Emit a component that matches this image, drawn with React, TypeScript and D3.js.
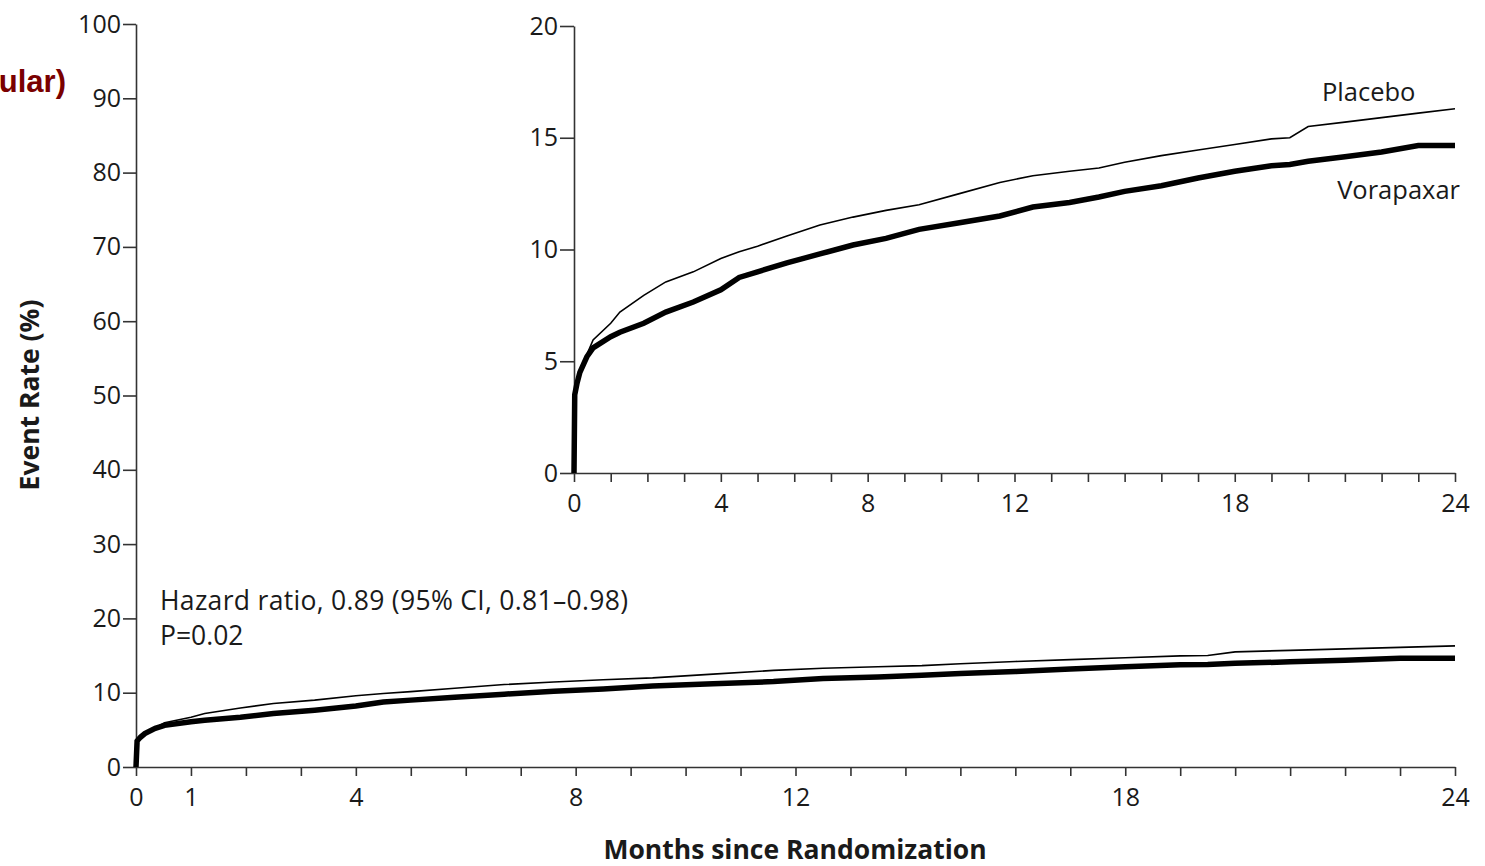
import React, { useEffect, useRef } from 'react';
import * as d3 from 'd3';

const WIDTH = 1485;
const HEIGHT = 866;

// months since randomization (shared time points for both curves)
const MONTHS = [0, 0.02, 0.08, 0.16, 0.35, 0.52, 1, 1.25, 1.9, 2.5, 3.25, 4, 4.5, 5, 5.8, 6.7, 7.6, 8.5, 9.4, 10.5, 11.6, 12.5, 13.5, 14.3, 15, 16, 17, 18, 19, 19.5, 20, 21, 22, 23, 24];
const PLACEBO = [0, 3.6, 4.1, 4.6, 5.3, 5.95, 6.7, 7.2, 7.95, 8.55, 9.0, 9.6, 9.9, 10.15, 10.6, 11.1, 11.45, 11.75, 12.0, 12.5, 13.0, 13.3, 13.5, 13.65, 13.9, 14.2, 14.45, 14.7, 14.95, 15.0, 15.5, 15.7, 15.9, 16.1, 16.3];
const VORAPAXAR = [0, 3.5, 4.0, 4.5, 5.2, 5.6, 6.1, 6.3, 6.7, 7.2, 7.65, 8.2, 8.75, 9.0, 9.4, 9.8, 10.2, 10.5, 10.9, 11.2, 11.5, 11.9, 12.1, 12.35, 12.6, 12.85, 13.2, 13.5, 13.75, 13.8, 13.95, 14.15, 14.36, 14.65, 14.65];

const MAIN_Y_TICKS = [0, 10, 20, 30, 40, 50, 60, 70, 80, 90, 100];
const MAIN_X_LABELS = [0, 1, 4, 8, 12, 18, 24];
const INSET_Y_TICKS = [0, 5, 10, 15, 20];
const INSET_X_LABELS = [0, 4, 8, 12, 18, 24];
const MONTH_TICKS = d3.range(0, 25);

const FONT = '"Open Sans", Lato, sans-serif';
const INK = '#1a1a1a';

function drawPanel(g, x, y, yTicks, xLabels, opts) {
  const line = d3.line()
    .x((d, i) => x(MONTHS[i]))
    .y(d => y(d));

  g.append('g')
    .attr('transform', `translate(${x.range()[0]},0)`)
    .call(d3.axisLeft(y).tickValues(yTicks).tickSize(opts.yTick).tickSizeOuter(0).tickPadding(2))
    .call(a => a.selectAll('text').attr('font-size', opts.fs).attr('fill', INK).attr('font-family', FONT));

  g.append('g')
    .attr('transform', `translate(0,${y.range()[0]})`)
    .call(d3.axisBottom(x).tickValues(MONTH_TICKS).tickSize(9).tickSizeOuter(0).tickPadding(opts.xPad)
      .tickFormat(d => (xLabels.includes(d) ? String(d) : '')))
    .call(a => a.selectAll('text').attr('font-size', opts.fs).attr('fill', INK).attr('font-family', FONT));

  g.selectAll('.domain, .tick line').attr('stroke', '#333').attr('stroke-width', 1.6);

  g.append('path')
    .attr('d', line(PLACEBO))
    .attr('fill', 'none').attr('stroke', '#000').attr('stroke-width', 1.6);
  g.append('path')
    .attr('d', line(VORAPAXAR))
    .attr('fill', 'none').attr('stroke', '#000').attr('stroke-width', 5.5);
}

export default function App() {
  const ref = useRef(null);

  useEffect(() => {
    const svg = d3.select(ref.current);
    svg.selectAll('*').remove();

    // main panel
    const xMain = d3.scaleLinear().domain([0, 24]).range([136, 1455]);
    const yMain = d3.scaleLinear().domain([0, 100]).range([767, 24]);
    drawPanel(svg.append('g'), xMain, yMain, MAIN_Y_TICKS, MAIN_X_LABELS, { fs: 25, yTick: 13, xPad: 12 });

    // inset panel
    const xIn = d3.scaleLinear().domain([0, 24]).range([574, 1455]);
    const yIn = d3.scaleLinear().domain([0, 20]).range([473, 26]);
    drawPanel(svg.append('g'), xIn, yIn, INSET_Y_TICKS, INSET_X_LABELS, { fs: 25, yTick: 14, xPad: 12 });

    svg.append('text')
      .attr('x', 1322).attr('y', 101)
      .attr('font-family', FONT).attr('font-size', 25.5).attr('fill', INK)
      .text('Placebo');
    svg.append('text')
      .attr('x', 1460).attr('y', 199).attr('text-anchor', 'end')
      .attr('font-family', FONT).attr('font-size', 25.5).attr('fill', INK)
      .text('Vorapaxar');

    svg.append('text')
      .attr('x', 160).attr('y', 610)
      .attr('font-family', FONT).attr('font-size', 26.5).attr('fill', INK)
      .attr('textLength', 468).attr('lengthAdjust', 'spacing')
      .text('Hazard ratio, 0.89 (95% CI, 0.81–0.98)');
    svg.append('text')
      .attr('x', 160).attr('y', 645)
      .attr('font-family', FONT).attr('font-size', 26.5).attr('fill', INK)
      .text('P=0.02');

    svg.append('text')
      .attr('transform', 'translate(39,395) rotate(-90)')
      .attr('text-anchor', 'middle')
      .attr('font-family', FONT).attr('font-weight', 'bold').attr('font-size', 26.5).attr('fill', INK)
      .text('Event Rate (%)');
    svg.append('text')
      .attr('x', 795).attr('y', 859).attr('text-anchor', 'middle')
      .attr('font-family', FONT).attr('font-weight', 'bold').attr('font-size', 26.5).attr('fill', INK)
      .text('Months since Randomization');

    // cropped title fragment
    svg.append('text')
      .attr('x', 66).attr('y', 92).attr('text-anchor', 'end')
      .attr('font-family', '"Liberation Sans", Arial, sans-serif').attr('font-weight', 'bold')
      .attr('font-size', 31).attr('fill', '#7a0000')
      .text('ular)');
  }, []);

  return (
    <svg
      ref={ref}
      width={WIDTH}
      height={HEIGHT}
      style={{ position: 'absolute', left: 0, top: 0, background: '#fff' }}
    />
  );
}
